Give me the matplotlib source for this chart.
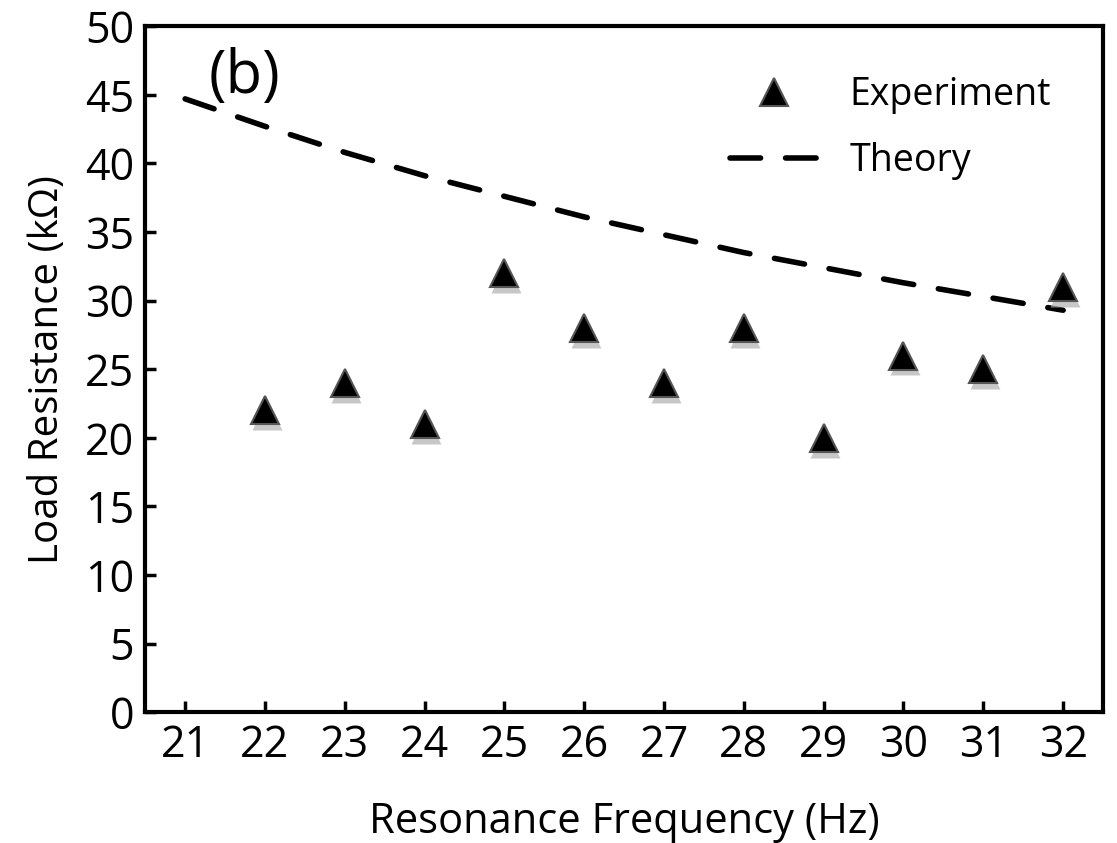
import matplotlib.pyplot as plt

plt.rcParams['font.family'] = ['Open Sans', 'DejaVu Sans']

# measured points
freq_exp = [22, 23, 24, 25, 26, 27, 28, 29, 30, 31, 32]
res_exp = [22, 24, 21, 32, 28, 24, 28, 20, 26, 25, 31]

# theoretical curve
freq_th = [21, 22, 23, 24, 25, 26, 27, 28, 29, 30, 31, 32]
res_th = [44.7, 42.7, 40.8, 39.1, 37.6, 36.1, 34.8, 33.5, 32.4, 31.3, 30.3, 29.3]

fig = plt.figure(figsize=(11.17, 8.43), dpi=100)
ax = fig.add_axes([0.130, 0.155, 0.8575, 0.814])

ax.plot(freq_th, res_th, color='black', lw=4.0, linestyle=(0, (5.5, 4.5)),
        dash_capstyle='round', label='Theory', zorder=2)
# soft shadow under the triangles
ax.plot([f + 0.02 for f in freq_exp], [r - 0.35 for r in res_exp], '^', ms=21,
        color='#b0b0b0', mec='none', alpha=0.7, zorder=3)
ax.plot(freq_exp, res_exp, '^', ms=20, color='black', mec='#555555', mew=1.5,
        linestyle='none', label='Experiment', zorder=4)

ax.set_xlim(20.5, 32.5)
ax.set_ylim(0, 50)
ax.set_xticks(range(21, 33))
ax.set_yticks(range(0, 51, 5))
ax.tick_params(direction='in', length=8, width=2.5, labelsize=31,
               top=False, right=False, pad=8)
for s in ax.spines.values():
    s.set_linewidth(3)

ax.set_xlabel('Resonance Frequency (Hz)', fontsize=30, labelpad=24)
ax.set_ylabel('Load Resistance (k\u03a9)', fontsize=29, labelpad=12)

ax.text(21.3, 46.3, '(b)', fontsize=43, va='center', ha='left')

handles, labels = ax.get_legend_handles_labels()
leg = ax.legend(handles[::-1], labels[::-1], loc='upper right',
                bbox_to_anchor=(0.981, 0.977), frameon=False, fontsize=27,
                handlelength=2.35, handletextpad=0.85, labelspacing=0.75)

fig.savefig('out.png', dpi=100)
